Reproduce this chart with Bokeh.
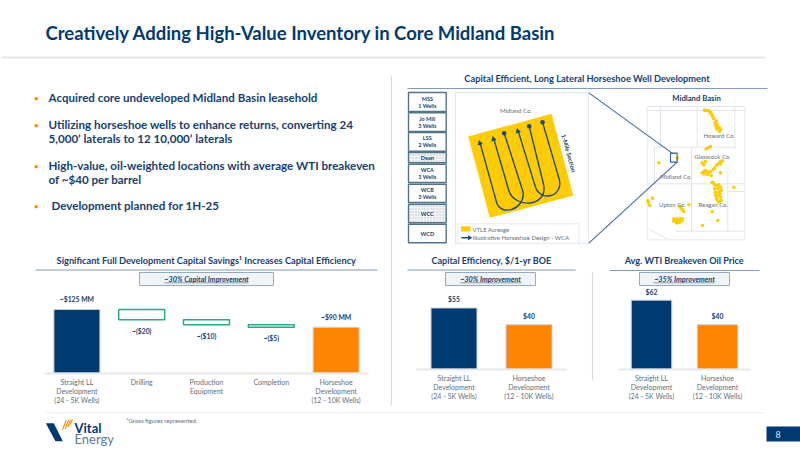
from bokeh.plotting import figure
from bokeh.models import Range1d, LinearAxis, FixedTicker, ColumnDataSource
from bokeh.core.properties import value
from bokeh.embed import file_html
from bokeh.resources import INLINE

# ---------- chart data ----------
capex_categories = ["Straight LL\nDevelopment\n(24 - 5K Wells)", "Drilling", "Production\nEquipment",
                    "Completion", "Horseshoe\nDevelopment\n(12 - 10K Wells)"]
capex_totals = [125, 90]
capex_savings = [20, 10, 5]
capex_total_labels = ["~$125 MM", "~$90 MM"]
capex_saving_labels = ["~($20)", "~($10)", "~($5)"]

pair_categories = ["Straight LL\nDevelopment\n(24 - 5K Wells)", "Horseshoe\nDevelopment\n(12 - 10K Wells)"]
efficiency_values = [55, 40]
efficiency_labels = ["$55", "$40"]
breakeven_values = [62, 40]
breakeven_labels = ["$62", "$40"]

strat_names = ["MSS\n1 Wells", "Jo Mill\n3 Wells", "LSS\n2 Wells", "Dean", "WCA\n3 Wells", "WCB\n3 Wells", "WCC", "WCD"]
bullets = [["Acquired core undeveloped Midland Basin leasehold"],
           ["Utilizing horseshoe wells to enhance returns, converting 24", "5,000\u2019 laterals to 12 10,000\u2019 laterals"],
           ["High-value, oil-weighted locations with average WTI breakeven", "of ~$40 per barrel"],
           ["Development planned for 1H-25"]]
acreage_x = [200, 210, 215, 220, 228, 225, 232, 240, 236, 197, 210, 185, 195, 240, 228, 222, 195, 205, 190, 212, 240,
             215, 228, 240, 235, 225, 240, 235, 228, 280, 55, 110, 28, 24, 36, 122, 130, 145, 105, 115, 125, 113, 232, 186, 215,
             192, 205, 212, 218, 224, 230, 238, 228, 205, 190, 240, 233, 246, 218, 190, 200, 210, 185, 200, 218, 222, 235,
             222, 232, 242, 232, 242, 232, 238, 225, 22, 118, 126, 100, 110, 120, 100, 108, 118, 125]
acreage_y = [75, 80, 90, 100, 107, 120, 125, 133, 138, 190, 183, 232, 228, 228, 240, 248, 255, 262, 265, 270, 262,
             290, 300, 305, 320, 320, 335, 350, 340, 305, 232, 218, 360, 352, 338, 368, 378, 358, 405, 405, 405, 412, 405, 420, 378,
             74, 76, 85, 95, 112, 118, 128, 130, 186, 238, 235, 235, 226, 252, 258, 258, 258, 262, 268, 292, 298, 298,
             310, 310, 315, 330, 345, 345, 325, 330, 345, 362, 373, 400, 400, 400, 407, 412, 410, 400]

# ---------- palette ----------
NAVY, ORANGE, GREEN = "#003a70", "#ff8400", "#2aa98c"
TITLE = "#17406d"
GREY = "#5f6d7a"
RULE = "#7f9db9"
PALE = "#e3e8ed"
YELLOW = "#ffcb05"
FONT = "Lato"

L, R, T, B = 0, 800, 0, 450
p = figure(width=R - L, height=B - T, x_range=Range1d(L, R), y_range=Range1d(B, T),
           x_axis_type=None, y_axis_type=None, toolbar_location=None, output_backend="svg",
           min_border=0, outline_line_color=None, background_fill_color="white", border_fill_color="white")
p.grid.visible = False


def text(x, y, s, size, color=GREY, style="normal", align="left", angle=0):
    p.text([x], [y], text=[s], text_font=value(FONT), text_font_size=f"{size}px", text_color=color,
           text_font_style=style, text_align=align, text_baseline="middle", angle=angle)


def hline(x0, x1, y, color=RULE, w=1.0):
    p.segment([x0], [y], [x1], [y], line_color=color, line_width=w)


def box(x0, x1, y0, y1, fill="white", line=PALE, w=1.0, **kw):
    p.quad(left=[x0], right=[x1], top=[y0], bottom=[y1], fill_color=fill, line_color=line, line_width=w, **kw)


# ---------- header and left bullets ----------
text(45, 32.5, "Creatively Adding High-Value Inventory in Core Midland Basin", 18.5, NAVY, "bold")
hline(L, 765, 57, PALE, 2)
p.segment([391, 592], [75, 272], [391, 592], [405, 380], line_color="#d8dde3", line_width=1.2)

y_lines = [[97], [124, 138], [165, 178.5], [205]]
x_starts = [48, 48, 48, 51]
for para, ys, xs in zip(bullets, y_lines, x_starts):
    text(33.5, ys[0], "\u2022", 8, ORANGE, "bold")
    for s, y in zip(para, ys):
        text(xs, y, s, 11.6, TITLE, "bold")

# ---------- section titles ----------
text(586.5, 78, "Capital Efficient, Long Lateral Horseshoe Well Development", 9.25, TITLE, "bold", "center")
hline(407, 767, 88)
text(205.8, 259.5, "Significant Full Development Capital Savings\u00b9 Increases Capital Efficiency", 9.25, TITLE, "bold", "center")
hline(35, 377, 269.5)
text(491, 259.5, "Capital Efficiency, $/1-yr BOE", 9, TITLE, "bold", "center")
hline(407, 575, 269.5)
text(683.7, 260, "Avg. WTI Breakeven Oil Price", 9.1, TITLE, "bold", "center")
hline(609, 759, 270)

for x0, x1, u0, u1, s in [(139, 273, 164, 248, "~30% Capital Improvement"),
                          (445, 535, 460, 521, "~30% Improvement"),
                          (639, 729, 653, 714, "~35% Improvement")]:
    box(x0, x1, 272, 285, "#f1f4f6", "#93aac2", 1)
    text((x0 + x1) / 2, 278.5, s, 7.3, TITLE, "bold italic", "center")
    hline(u0, u1, 282.3, TITLE, 0.5)


# ---------- charts: every panel has its own scales ----------
def panel(name, axis_x0, axis_x1, base_y, px_per_unit, labels):
    step = (axis_x1 - axis_x0) / len(labels)
    first = axis_x0 + step / 2
    p.extra_x_ranges[name] = Range1d((L - first) / step, (R - first) / step)
    p.extra_y_ranges[name] = Range1d((base_y - B) / px_per_unit, (base_y - T) / px_per_unit)
    split = [s.split("\n") for s in labels]
    for row in range(3):
        ax = LinearAxis(x_range_name=name, y_range_name=name, fixed_location=0,
                        ticker=FixedTicker(ticks=list(range(len(labels)))),
                        major_label_overrides={i: (s[row] if row < len(s) else "") for i, s in enumerate(split)},
                        bounds=(-0.5, len(labels) - 0.5),
                        major_tick_line_color=None, minor_tick_line_color=None,
                        axis_line_color="#e6eaee", axis_line_width=1.5,
                        major_label_text_font=FONT, major_label_text_font_size="7px",
                        major_label_text_color=GREY, major_label_standoff=-1 + 9 * row,
                        major_label_orientation="horizontal")
        p.add_layout(ax, "below")


def value_labels(name, xs, ys, labels, offset):
    src = ColumnDataSource(dict(x=xs, y=ys, t=labels))
    p.text("x", "y", text="t", source=src, x_range_name=name, y_range_name=name, text_font=value(FONT),
           text_font_size="6.8px", text_color=TITLE, text_font_style="bold", text_align="center",
           text_baseline="middle", y_offset=offset)


# capital waterfall
panel("capex", 44, 368, 372.7, 0.51, capex_categories)
tot_x = [0, len(capex_categories) - 1]
p.vbar(x=tot_x, top=capex_totals, bottom=0, width=0.71, fill_color=[NAVY, ORANGE], line_color="#cbd3da",
       line_width=1, x_range_name="capex", y_range_name="capex")
tops, bottoms, running = [], [], capex_totals[0]
for v in capex_savings:
    tops.append(running)
    running -= v
    bottoms.append(running)
sav_x = [1, 2, 3]
p.vbar(x=sav_x, top=tops, bottom=bottoms, width=0.71, fill_color="white", line_color=GREEN, line_width=1.5,
       x_range_name="capex", y_range_name="capex")
value_labels("capex", tot_x, capex_totals, capex_total_labels, -10)
value_labels("capex", sav_x, bottoms, capex_saving_labels, 11)

# two-bar panels
for name, x0, x1, width, vals, labs in [("eff", 416, 566, 0.613, efficiency_values, efficiency_labels),
                                        ("wti", 618, 750, 0.614, breakeven_values, breakeven_labels)]:
    panel(name, x0, x1, 368.8, 1.115, pair_categories)
    p.vbar(x=[0, 1], top=vals, bottom=0, width=width, fill_color=[NAVY, ORANGE], line_color="#cbd3da",
           line_width=1, x_range_name=name, y_range_name=name)
    value_labels(name, [0, 1], vals, labs, -8.5)


# ---------- well schematic (zoomed coordinates of the illustration) ----------
zx = lambda v: 400 + v / 3
zy = lambda v: 60 + v / 3

strat_y = [(92, 111), (112.3, 131), (132, 150.7), (152, 162.3), (163.7, 182), (183.7, 202), (203.7, 222.3), (223.7, 242.3)]
for name, (y0, y1) in zip(strat_names, strat_y):
    if name in ("Dean", "WCC"):
        box(408, 445.7, y0, y1, "#f2f4f6", "#527488", 1.4, hatch_pattern="dot", hatch_color="#b9c3cc", hatch_scale=3)
    else:
        box(408, 445.7, y0, y1, "white", "#527488", 1.4)
    rows = name.split("\n")
    for i, r in enumerate(rows):
        text(426.8, (y0 + y1) / 2 + (i - (len(rows) - 1) / 2) * 7, r, 5.5, TITLE, "bold", "center")

box(455, 588, 92, 243, "white", "#e2e7ec", 1)
p.patch([zx(v) for v in (203, 453, 518, 268)], [zy(v) for v in (228, 160, 405, 472)], fill_color=YELLOW, line_color=None)
text(zx(346), zy(150), "Midland Co.", 6, GREY, "normal", "center")
text(zx(505), zy(278), "1-Mile Section", 6, TITLE, "bold", "center", angle=-1.3)

WELL = "#1b4a7c"
legs_x0 = [238, 311, 279, 386, 352, 426]
legs_y0 = [245, 218, 232, 197, 208, 185]
legs_x1 = [288, 368, 325, 430, 405, 476]
legs_y1 = [425, 395, 390, 375, 380, 355]
p.segment([zx(v) for v in legs_x0], [zy(v) for v in legs_y0], [zx(v) for v in legs_x1], [zy(v) for v in legs_y1],
          line_color=WELL, line_width=1.4)
for (a, b, c, d, e, f, g, h) in [(288, 425, 300, 468, 372, 450, 368, 395),
                                 (325, 390, 342, 445, 440, 440, 430, 375),
                                 (405, 380, 420, 425, 490, 410, 476, 355)]:
    p.bezier(x0=[zx(a)], y0=[zy(b)], cx0=[zx(c)], cy0=[zy(d)], cx1=[zx(e)], cy1=[zy(f)], x1=[zx(g)], y1=[zy(h)],
             line_color=WELL, line_width=1.4)
p.scatter([zx(v) for v in (311, 386, 426)], [zy(v) for v in (218, 197, 185)], marker="circle", size=4.5,
          fill_color=WELL, line_color=None)
p.scatter([zx(v) for v in (238, 279, 352)], [zy(v) for v in (248, 236, 212)], marker="triangle", size=5.5,
          fill_color=WELL, line_color=None, angle=0.27)

box(zx(172), zx(535), zy(490), zy(548), "white", "#e8ecf0", 1)
box(zx(182), zx(210), zy(497), zy(513), YELLOW, None)
hline(zx(183), zx(205), zy(532), WELL, 1.5)
p.scatter([zx(207)], [zy(532)], marker="triangle", size=5, fill_color=WELL, line_color=None, angle=-1.57)
text(zx(216), zy(506), "VTLE Acreage", 6, GREY)
text(zx(216), zy(532), "Illustrative Horseshoe Design - WCA", 6, GREY)

# ---------- Midland Basin map ----------
mx = lambda v: 640 + v / 3
my = lambda v: 85 + v / 3

text(mx(168), my(37), "Midland Basin", 7.7, TITLE, "bold", "center")
box(mx(20), mx(313), my(63), my(463), "white", "#e6eaee", 1)
county = [(20, 75, 312, 75), (60, 63, 60, 185), (170, 63, 170, 185), (283, 63, 283, 190), (42, 185, 280, 185),
          (42, 185, 42, 295), (22, 295, 312, 295), (153, 185, 153, 440), (262, 255, 262, 440), (262, 318, 312, 318),
          (105, 437, 312, 437), (25, 430, 80, 460)]
p.segment([mx(c[0]) for c in county], [my(c[1]) for c in county], [mx(c[2]) for c in county], [my(c[3]) for c in county],
          line_color="#e1e5ea", line_width=1)
p.scatter([mx(v) for v in acreage_x], [my(v) for v in acreage_y], marker="circle", size=3.6, fill_color=YELLOW, line_color=None)
for s, x, y in [("Howard Co.", 236, 151), ("Glasscock Co.", 216, 214), ("Midland Co.", 106, 272),
                ("Upton Co.", 96, 358), ("Reagan Co.", 218, 358)]:
    text(mx(x), my(y), s, 6, GREY, "normal", "center")

p.segment([zx(565), zx(565)], [zy(97), zy(548)], [zx(818), zx(830)], [zy(280), zy(305)], line_color="#3f6c98", line_width=1.1)
p.quad(left=[mx(90)], right=[mx(110)], top=[my(203)], bottom=[my(230)], fill_alpha=0, line_color="#2f5f8f", line_width=1.1)

# ---------- footer ----------
hline(45, 765, 412.3, "#eceff2", 1)
text(126, 420, "\u00b9Gross figures represented.", 6, GREY)
lx = lambda v: 30 + v / 3
ly = lambda v: 410 + v / 3
p.patch([lx(v) for v in (46, 70, 97, 75)], [ly(v) for v in (38, 38, 92, 92)], fill_color=NAVY, line_color=None)
p.segment([lx(v) for v in (96, 104, 112, 119)], [ly(v) for v in (58, 56, 50, 42)],
          [lx(v) for v in (107, 114, 120, 126)], [ly(v) for v in (30, 28, 28, 27)], line_color=ORANGE, line_width=1.1)
text(74, 427, "Vital", 13, NAVY, "bold")
text(74, 438, "Energy", 13, "#5b7b97")
box(766, R, 426, 441, NAVY, None)
text(775, 433.5, "8", 9, "#dfe6ee")

open("out.html", "w").write(file_html(p, INLINE))
